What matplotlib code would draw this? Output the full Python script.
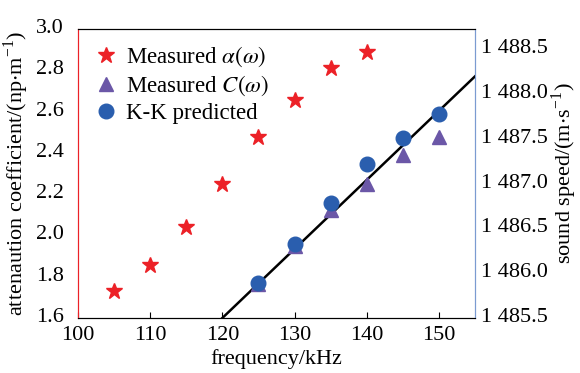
import matplotlib
matplotlib.use("Agg")
from matplotlib import pyplot as plt
from matplotlib import transforms

plt.rcParams['font.family'] = ['Liberation Serif', 'DejaVu Serif']
plt.rcParams['mathtext.fontset'] = 'stix'

freq_alpha = [105, 110, 115, 120, 125, 130, 135, 140]
alpha_measured = [1.731, 1.857, 2.039, 2.248, 2.476, 2.656, 2.813, 2.890]

freq_speed = [125, 130, 135, 140, 145, 150]
speed_measured = [1485.88, 1486.30, 1486.71, 1487.00, 1487.32, 1487.52]
speed_kk = [1485.89, 1486.33, 1486.78, 1487.22, 1487.51, 1487.78]

fit_x = [120, 155]
fit_y = [1485.5, 1488.2]

x_ticks = [100, 110, 120, 130, 140, 150]
left_ticks = [1.6, 1.8, 2.0, 2.2, 2.4, 2.6, 2.8, 3.0]
right_ticks = [1485.5, 1486.0, 1486.5, 1487.0, 1487.5, 1488.0, 1488.5]
right_labels = ["1 485.5", "1 486.0", "1 486.5", "1 487.0", "1 487.5", "1 488.0", "1 488.5"]

red = "#ec2127"
purple = "#6b57a7"
blue = "#2a5eae"
right_blue = "#7b9bd1"

fig = plt.figure(figsize=(5.8, 3.73), dpi=100)
ax = fig.add_axes([0.1345, 0.1475, 0.6845, 0.775])
ax2 = ax.twinx()

h1, = ax.plot(freq_alpha, alpha_measured, linestyle="none", marker="*",
              markersize=12, color=red, label=r"Measured $\alpha(\omega)$")
ax2.plot(fit_x, fit_y, color="black", linewidth=1.8, zorder=2)
h2, = ax2.plot(freq_speed, speed_measured, linestyle="none", marker="^",
               markersize=10, color=purple, label=r"Measured $C(\omega)$", zorder=3)
h3, = ax2.plot(freq_speed, speed_kk, linestyle="none", marker="o",
               markersize=10.5, color=blue, label="K-K predicted", zorder=4)

ax.set_xlim(100, 155)
ax.set_ylim(1.6, 3.0)
ax2.set_ylim(1485.5, 1488.73)

ax.set_xticks(x_ticks)
ax.set_yticks(left_ticks)
ax.set_yticklabels(["%.1f" % v for v in left_ticks])
ax2.set_yticks(right_ticks)
ax2.set_yticklabels(right_labels)

ax.tick_params(axis="x", direction="in", length=4, labelsize=16, pad=6)
ax.tick_params(axis="y", length=0, labelsize=16, pad=10)
ax2.tick_params(axis="y", length=0, labelsize=16, pad=4)

# tick labels sit a few pixels above their tick in the original
lift = transforms.ScaledTranslation(0, 3 / 100, fig.dpi_scale_trans)
for lab in ax.get_yticklabels() + ax2.get_yticklabels():
    lab.set_transform(lab.get_transform() + lift)

ax.set_xlabel("frequency/kHz", fontsize=16, labelpad=3)
ax.set_ylabel(r"attenaution coefficient/(np$\cdot$m$^{\mathregular{-1}}$)", fontsize=16, labelpad=4)
ax2.set_ylabel(r"sound speed/(m$\cdot$s$^{\mathregular{-1}}$)", fontsize=16, labelpad=1.5)

for a in (ax, ax2):
    a.spines["left"].set_color(red)
    a.spines["right"].set_color(right_blue)
    a.spines["top"].set_color("black")
    a.spines["bottom"].set_color("black")

ax2.legend(handles=[h1, h2, h3], loc="upper left", bbox_to_anchor=(0.0, 1.0),
           frameon=False, fontsize=16.5, handletextpad=0.4, labelspacing=0.2,
           borderaxespad=0.3, handlelength=1.0)

fig.savefig("out.png", dpi=100)
